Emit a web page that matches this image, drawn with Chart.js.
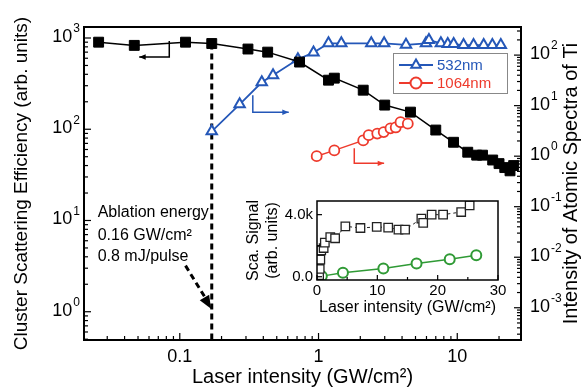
<!DOCTYPE html>
<html>
<head>
<meta charset="utf-8">
<script src="https://cdn.jsdelivr.net/npm/chart.js@4.4.0/dist/chart.umd.min.js"></script>
<style>
    html, body { margin: 0; padding: 0; background: #fff; }
    #wrap { position: relative; width: 585px; height: 389px; }
    #main { position: absolute; left: 0; top: 0; }
    #inset { position: absolute; left: 240px; top: 185px; }
</style>
</head>
<body>
<div id="wrap">
    <canvas id="main" width="585" height="389"></canvas>
    <canvas id="inset" width="270" height="132"></canvas>
</div>
<script>
// cluster scattering efficiency (left axis, black squares)
const clusterX = [0.026, 0.047, 0.11, 0.17, 0.31, 0.43, 0.73, 1.18, 1.30, 2.1, 3.0, 4.6, 7.0, 9.4, 11.9, 13.8, 15.2, 18, 20, 22, 24, 25.5];
const clusterY = [900, 830, 900, 870, 757, 700, 545, 345, 363, 268, 184, 154, 98, 72, 56, 52, 52, 46, 42, 38, 35, 40];

// Ti atomic spectra (right axis)
const ti532X = [0.17, 0.27, 0.39, 0.47, 0.71, 0.92, 1.18, 1.46, 2.4, 2.97, 4.27, 5.95, 6.25, 7.62, 8.54, 9.42, 11.1, 13.1, 15.5, 17.9, 20.6];
const ti532Y = [3.1, 10.6, 29, 40, 83, 112, 171, 171, 171, 171, 160, 171, 198, 171, 165, 165, 158, 158, 158, 158, 158];
const ti1064X = [0.97, 1.30, 2.1, 2.3, 2.65, 2.95, 3.3, 3.6, 3.9, 4.4];
const ti1064Y = [1.0, 1.3, 2.05, 2.6, 2.8, 3.0, 3.55, 3.7, 4.7, 4.4];

// inset (linear)
const insetScaX = [0.35, 0.45, 0.55, 0.7, 1.1, 1.3, 2.2, 3.0, 4.7, 7.2, 9.9, 11.8, 13.5, 14.6, 17.3, 17.6, 19, 20.9, 23.9, 25.3];
const insetScaY = [100, 500, 1100, 1700, 1850, 2200, 2550, 2480, 3250, 3140, 3210, 3170, 3040, 3040, 3740, 3470, 4000, 4000, 4170, 4600];
const insetGrnX = [0.8, 4.3, 11, 16.5, 22, 26.4];
const insetGrnY = [40, 260, 530, 860, 1130, 1390];

const xTickLabels = [0.1, 1, 10];
const leftDecades = [0, 1, 2, 3];
const rightDecades = [-3, -2, -1, 0, 1, 2];
const insetYLabels = [0, 4000];
const legendLabels = ['532nm', '1064nm'];
const ablationX = 0.17;
const ablationText = ['Ablation energy', '0.16 GW/cm²', '0.8 mJ/pulse'];

const FONT = '"Liberation Sans", Arial, Helvetica, sans-serif';
const BLUE = '#2457b8';
const RED = '#ee3a2c';
const GREEN = '#2f9a35';

Chart.defaults.font.family = FONT;
Chart.defaults.color = '#000';

function pts(xs, ys) { return xs.map((x, i) => ({ x: x, y: ys[i] })); }

function arrowHead(ctx, x0, y0, x1, y1, size) {
    const ang = Math.atan2(y1 - y0, x1 - x0);
    ctx.beginPath();
    ctx.moveTo(x1, y1);
    ctx.lineTo(x1 - size * Math.cos(ang - 0.4), y1 - size * Math.sin(ang - 0.4));
    ctx.lineTo(x1 - size * Math.cos(ang + 0.4), y1 - size * Math.sin(ang + 0.4));
    ctx.closePath();
    ctx.fill();
}

// L shaped arrow: down then sideways
function lArrow(ctx, xs, ys, x0, y0, y1, x1, color) {
    const px0 = xs.getPixelForValue(x0), py0 = ys.getPixelForValue(y0);
    const py1 = ys.getPixelForValue(y1), px1 = xs.getPixelForValue(x1);
    ctx.strokeStyle = color; ctx.fillStyle = color; ctx.lineWidth = 1.5; ctx.setLineDash([]);
    ctx.beginPath(); ctx.moveTo(px0, py0); ctx.lineTo(px0, py1); ctx.lineTo(px1, py1); ctx.stroke();
    arrowHead(ctx, px0, py1, px1, py1, 7);
}

function logTicks(ctx, scale, edge, dir, vertical) {
    const lo = Math.floor(Math.log10(scale.min)), hi = Math.ceil(Math.log10(scale.max));
    ctx.strokeStyle = '#000'; ctx.lineWidth = 1.2; ctx.setLineDash([]);
    for (let e = lo; e <= hi; e++) {
        for (let m = 1; m < 10; m++) {
            const v = m * Math.pow(10, e);
            if (v < scale.min || v > scale.max) continue;
            const p = scale.getPixelForValue(v);
            const len = m === 1 ? 7 : 4;
            ctx.beginPath();
            if (vertical) { ctx.moveTo(edge, p); ctx.lineTo(edge + dir * len, p); }
            else { ctx.moveTo(p, edge); ctx.lineTo(p, edge + dir * len); }
            ctx.stroke();
        }
    }
}

function powLabel(ctx, x, y, exp, align) {
    ctx.textBaseline = 'middle';
    ctx.font = '18px ' + FONT;
    const wb = ctx.measureText('10').width;
    ctx.font = '12px ' + FONT;
    const we = ctx.measureText(String(exp)).width;
    const x0 = align === 'right' ? x - wb - we - 1 : x;
    ctx.textAlign = 'left';
    ctx.font = '18px ' + FONT;
    ctx.fillText('10', x0, y);
    ctx.font = '12px ' + FONT;
    ctx.fillText(String(exp), x0 + wb + 1, y - 8);
}

const mainDeco = {
    id: 'mainDeco',
    beforeDatasetsDraw(chart) {
        const { ctx, chartArea: a, scales: { x, y } } = chart;
        ctx.save();
        ctx.strokeStyle = '#000'; ctx.lineWidth = 3; ctx.setLineDash([6, 4]);
        const xa = x.getPixelForValue(ablationX);
        ctx.beginPath(); ctx.moveTo(xa, y.getPixelForValue(870)); ctx.lineTo(xa, a.bottom); ctx.stroke();
        ctx.restore();
    },
    afterDraw(chart) {
        const { ctx, chartArea: a, scales: { x, y, y2 } } = chart;
        ctx.save();
        // frame
        ctx.strokeStyle = '#000'; ctx.lineWidth = 2;
        ctx.strokeRect(a.left, a.top, a.right - a.left, a.bottom - a.top);
        logTicks(ctx, x, a.bottom, -1, false);
        logTicks(ctx, y, a.left, 1, true);
        logTicks(ctx, y2, a.right, -1, true);

        ctx.fillStyle = '#000';
        leftDecades.forEach(e => powLabel(ctx, 80, y.getPixelForValue(Math.pow(10, e)) - 1, e, 'right'));
        rightDecades.forEach(e => powLabel(ctx, 530, y2.getPixelForValue(Math.pow(10, e)) - 1, e, 'left'));

        // right title, reads bottom to top
        ctx.save();
        ctx.translate(571, (a.top + a.bottom) / 2);
        ctx.rotate(-Math.PI / 2);
        ctx.font = '20px ' + FONT; ctx.textAlign = 'center'; ctx.textBaseline = 'middle';
        ctx.fillText('Intensity of Atomic Spectra of Ti', 0, 0);
        ctx.restore();

        // arrows pointing to axes
        lArrow(ctx, x, y, 0.084, 927, 618, 0.051, '#000');
        lArrow(ctx, x, y2, 0.336, 16, 7.4, 0.61, BLUE);
        lArrow(ctx, x, y2, 1.81, 1.43, 0.72, 2.97, RED);

        // ablation annotation
        ctx.font = '16px ' + FONT; ctx.textAlign = 'left'; ctx.textBaseline = 'middle'; ctx.fillStyle = '#000';
        const ty = [12.2, 6.8, 4.0];
        ablationText.forEach((t, i) => ctx.fillText(t, x.getPixelForValue(0.0256), y.getPixelForValue(ty[i])));
        const ax0 = x.getPixelForValue(0.11), ay0 = y.getPixelForValue(3.2);
        const ax1 = x.getPixelForValue(0.168), ay1 = y.getPixelForValue(1.08);
        ctx.strokeStyle = '#000'; ctx.lineWidth = 3; ctx.setLineDash([6, 4]);
        ctx.beginPath(); ctx.moveTo(ax0, ay0); ctx.lineTo(ax1 - 4, ay1 - 8); ctx.stroke();
        ctx.setLineDash([]);
        arrowHead(ctx, ax0, ay0, ax1, ay1, 14);

        // legend
        ctx.strokeStyle = '#888'; ctx.lineWidth = 1;
        ctx.strokeRect(393.5, 53.5, 114, 40);
        const cols = [BLUE, RED];
        const styles = ['triangle', 'circle'];
        legendLabels.forEach((lab, i) => {
            const ly = 65 + i * 18;
            ctx.strokeStyle = cols[i]; ctx.lineWidth = 2;
            ctx.beginPath(); ctx.moveTo(399, ly); ctx.lineTo(433, ly); ctx.stroke();
            ctx.fillStyle = '#fff';
            Chart.helpers.drawPoint(ctx, { pointStyle: styles[i], radius: 5.5, borderWidth: 2 }, 416, ly);
            ctx.fillStyle = cols[i];
            ctx.font = '15px ' + FONT; ctx.textAlign = 'left'; ctx.textBaseline = 'middle';
            ctx.fillText(lab, 437, ly + 1);
        });
        ctx.restore();
    }
};

new Chart(document.getElementById('main'), {
    type: 'scatter',
    data: {
        datasets: [
            {
                data: pts(clusterX, clusterY), yAxisID: 'y', showLine: true,
                borderColor: '#000', borderWidth: 1.5,
                pointStyle: 'rect', pointRadius: 7, pointBackgroundColor: '#000', pointBorderColor: '#000', pointBorderWidth: 1
            },
            {
                data: pts(ti532X, ti532Y), yAxisID: 'y2', showLine: true,
                borderColor: BLUE, borderWidth: 1.8,
                pointStyle: 'triangle', pointRadius: 6, pointBackgroundColor: '#fff', pointBorderColor: BLUE, pointBorderWidth: 2
            },
            {
                data: pts(ti1064X, ti1064Y), yAxisID: 'y2', showLine: true,
                borderColor: RED, borderWidth: 1.5,
                pointStyle: 'circle', pointRadius: 5, pointBackgroundColor: '#fff', pointBorderColor: RED, pointBorderWidth: 1.8
            }
        ]
    },
    options: {
        responsive: false, animation: false, devicePixelRatio: 1,
        layout: { padding: { top: 27, left: 0, right: 0, bottom: 0 } },
        plugins: { legend: { display: false }, tooltip: { enabled: false } },
        scales: {
            x: {
                type: 'logarithmic', min: 0.0204, max: 28.8,
                grid: { display: false, drawTicks: false }, border: { display: false },
                ticks: {
                    autoSkip: false, maxRotation: 0, padding: 6, font: { size: 18 },
                    callback: (v) => xTickLabels.find(t => Math.abs(t - v) / t < 1e-6) !== undefined ? String(v) : ''
                },
                title: { display: true, text: 'Laser intensity (GW/cm²)', font: { size: 20 }, padding: { top: 0, bottom: 0 } },
                afterFit: (s) => { s.height = 49; }
            },
            y: {
                type: 'logarithmic', position: 'left', min: 0.49, max: 1320,
                grid: { display: false, drawTicks: false }, border: { display: false },
                ticks: { display: false },
                title: { display: true, text: 'Cluster Scattering Efficiency (arb. units)', font: { size: 19 }, padding: { top: 10, bottom: 0 } },
                afterFit: (s) => { s.width = 84; }
            },
            y2: {
                type: 'logarithmic', position: 'right', min: 2.3e-4, max: 360,
                grid: { display: false, drawTicks: false }, border: { display: false },
                ticks: { display: false },
                afterFit: (s) => { s.width = 64; }
            }
        }
    },
    plugins: [mainDeco]
});

const insetDeco = {
    id: 'insetDeco',
    afterDraw(chart) {
        const { ctx, chartArea: a, scales: { x, y } } = chart;
        ctx.save();
        ctx.strokeStyle = '#000'; ctx.lineWidth = 1.5;
        ctx.strokeRect(a.left, a.top, a.right - a.left, a.bottom - a.top);
        ctx.lineWidth = 1.2;
        for (let v = 0; v <= 30; v += 5) {
            const p = x.getPixelForValue(v), len = v % 10 === 0 ? 5 : 3;
            ctx.beginPath(); ctx.moveTo(p, a.bottom); ctx.lineTo(p, a.bottom - len); ctx.stroke();
        }
        for (let v = 0; v <= 4000; v += 2000) {
            const p = y.getPixelForValue(v), len = v % 4000 === 0 ? 5 : 3;
            ctx.beginPath(); ctx.moveTo(a.left, p); ctx.lineTo(a.left + len, p); ctx.stroke();
        }
        ctx.restore();
    }
};

new Chart(document.getElementById('inset'), {
    type: 'scatter',
    data: {
        datasets: [
            {
                data: pts(insetScaX, insetScaY), showLine: true,
                borderColor: '#222', borderWidth: 1, borderDash: [3, 3],
                pointStyle: 'rect', pointRadius: 6, pointBackgroundColor: '#fff', pointBorderColor: '#222', pointBorderWidth: 1.3
            },
            {
                data: pts(insetGrnX, insetGrnY), showLine: true,
                borderColor: GREEN, borderWidth: 1.5,
                pointStyle: 'circle', pointRadius: 5, pointBackgroundColor: '#fff', pointBorderColor: GREEN, pointBorderWidth: 2
            }
        ]
    },
    options: {
        responsive: false, animation: false, devicePixelRatio: 1,
        layout: { padding: { top: 16, right: 12, left: 0, bottom: 0 } },
        plugins: { legend: { display: false }, tooltip: { enabled: false } },
        scales: {
            x: {
                type: 'linear', min: 0, max: 30,
                grid: { display: false, drawTicks: false }, border: { display: false },
                ticks: { stepSize: 10, padding: 2, maxRotation: 0, font: { size: 15 } },
                title: { display: true, text: 'Laser intensity (GW/cm²)', font: { size: 16 }, padding: { top: 0, bottom: 0 } },
                afterFit: (s) => { s.height = 37; }
            },
            y: {
                type: 'linear', min: -210, max: 4880,
                grid: { display: false, drawTicks: false }, border: { display: false },
                afterBuildTicks: (s) => { s.ticks = insetYLabels.map(v => ({ value: v })); },
                ticks: {
                    padding: 4, font: { size: 15 },
                    callback: (v) => v === 0 ? '0.0' : (v / 1000).toFixed(1) + 'k'
                },
                title: { display: true, text: ['Sca. Signal', '(arb. units)'], font: { size: 16 }, padding: { top: 4, bottom: 0 } },
                afterFit: (s) => { s.width = 77; }
            }
        }
    },
    plugins: [insetDeco]
});
</script>
</body>
</html>
